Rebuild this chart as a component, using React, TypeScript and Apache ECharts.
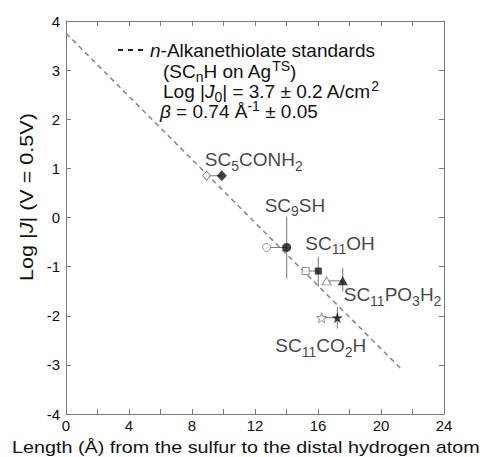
import React, { useEffect, useRef } from 'react';
import * as echarts from 'echarts';

// ---- data ----
const compounds = ['SC5CONH2', 'SC9SH', 'SC11OH', 'SC11PO3H2', 'SC11CO2H'];
const labelTexts = [
  'SC{s|5}CONH{s|2}',
  'SC{s|9}SH',
  'SC{s|11}OH',
  'SC{s|11}PO{s|3}H{s|2}',
  'SC{s|11}CO{s|2}H',
];
const filledLength = [9.89, 14.01, 16.02, 17.57, 17.23];
const openLength = [8.93, 12.74, 15.22, 16.55, 16.23];
const logJ = [0.85, -0.61, -1.09, -1.29, -2.04];
const errLow: (number | null)[] = [null, -1.24, -1.41, -1.5, -2.26];
const errHigh: (number | null)[] = [null, 0.02, -0.8, -1.03, -1.82];
const fitLength = [0, 21.3];
const fitLogJ = [3.75, -3.09];
const xTickLabels = [0, 4, 8, 12, 16, 20, 24];
const yTickLabels = [-4, -3, -2, -1, 0, 1, 2, 3, 4];

// ---- styles ----
const FONT = '"Liberation Sans", Arial, Helvetica, sans-serif';
const TEXT = '#111';
const AXIS = '#7a7a7a';
const STAR =
  'path://M0,-10L2.35,-3.24L9.51,-3.09L3.8,1.24L5.88,8.09L0,4L-5.88,8.09L-3.8,1.24L-9.51,-3.09L-2.35,-3.24Z';
const filledSymbols = ['diamond', 'circle', 'rect', 'triangle', STAR];
const filledSizes = [[10, 11], 9, 7, [10, 9], 11];
const openSymbols = ['diamond', 'circle', 'rect', 'triangle', STAR];
const openSizes = [[8, 9], 8, 7, [9, 8], 10];
const labelOffsets = [
  [-17, -16],
  [-22, -42],
  [-13, -28],
  [1, 14],
  [-62, 28],
];

export default function App() {
  const ref = useRef<HTMLDivElement>(null);
  useEffect(() => {
    if (!ref.current) return;
    const chart = echarts.init(ref.current, null, { renderer: 'svg' });
    const xStep = 2;
    const yStep = 1;
    const xMin = xTickLabels[0];
    const xMax = xTickLabels[xTickLabels.length - 1];
    const yMin = yTickLabels[0];
    const yMax = yTickLabels[yTickLabels.length - 1];

    const axisCommon = {
      type: 'value' as const,
      axisLine: { show: true, onZero: false, lineStyle: { color: AXIS, width: 1 } },
      axisTick: { show: true, inside: true, length: 5, lineStyle: { color: AXIS } },
      splitLine: { show: false },
    };

    const subRich = {
      s: {
        fontSize: 14,
        lineHeight: 14,
        verticalAlign: 'bottom',
        padding: [0, 0, -3, 0],
        fontFamily: FONT,
        color: TEXT,
      },
      u: {
        fontSize: 14,
        lineHeight: 14,
        verticalAlign: 'top',
        padding: [-2, 0, 0, 0],
        fontFamily: FONT,
        color: TEXT,
      },
      i: { fontSize: 19, lineHeight: 20, fontStyle: 'italic', fontFamily: FONT, color: TEXT },
    };

    const errData = compounds
      .map((_, i) => [filledLength[i], errLow[i], errHigh[i]])
      .filter((d) => d[1] !== null && d[2] !== null);
    const connData = compounds.map((_, i) => [openLength[i], filledLength[i], logJ[i]]);

    const legendText = (text: string, x: number, y: number) => ({
      type: 'text',
      x,
      y,
      style: {
        text,
        font: `19px ${FONT}`,
        fill: TEXT,
        verticalAlign: 'middle',
        align: 'left',
        lineHeight: 20,
        rich: subRich,
      },
    });

    chart.setOption({
      animation: false,
      backgroundColor: '#fff',
      grid: { left: 66, right: 43, top: 21, bottom: 43, containLabel: false },
      xAxis: [
        {
          ...axisCommon,
          min: xMin,
          max: xMax,
          interval: xStep,
          position: 'bottom',
          axisLabel: {
            margin: 4,
            fontSize: 15,
            fontFamily: FONT,
            color: TEXT,
            formatter: (v: number) => (xTickLabels.includes(v) ? String(v) : ''),
          },
        },
        {
          ...axisCommon,
          min: xMin,
          max: xMax,
          interval: xStep,
          position: 'top',
          axisLabel: { show: false },
        },
      ],
      yAxis: [
        {
          ...axisCommon,
          min: yMin,
          max: yMax,
          interval: yStep,
          position: 'left',
          axisLabel: {
            margin: 6,
            fontSize: 15,
            fontFamily: FONT,
            color: TEXT,
            formatter: (v: number) => (yTickLabels.includes(v) ? String(v) : ''),
          },
        },
        {
          ...axisCommon,
          min: yMin,
          max: yMax,
          interval: yStep,
          position: 'right',
          axisLabel: { show: false },
        },
      ],
      series: [
        {
          name: 'fit',
          type: 'line',
          data: fitLength.map((x, i) => [x, fitLogJ[i]]),
          showSymbol: false,
          symbol: 'none',
          lineStyle: { color: '#8a8a8a', width: 1.6, type: [5, 4] },
          z: 1,
        },
        {
          name: 'errorbars',
          type: 'custom',
          data: errData,
          renderItem: (params: any, api: any) => {
            const p1 = api.coord([api.value(0), api.value(1)]);
            const p2 = api.coord([api.value(0), api.value(2)]);
            return {
              type: 'line',
              shape: { x1: p1[0], y1: p1[1], x2: p2[0], y2: p2[1] },
              style: { stroke: '#8c8c8c', lineWidth: 1.2 },
            };
          },
          z: 2,
        },
        {
          name: 'connectors',
          type: 'custom',
          data: connData,
          renderItem: (params: any, api: any) => {
            const p1 = api.coord([api.value(0), api.value(2)]);
            const p2 = api.coord([api.value(1), api.value(2)]);
            return {
              type: 'line',
              shape: { x1: p1[0], y1: p1[1], x2: p2[0], y2: p2[1] },
              style: { stroke: '#777', lineWidth: 1 },
            };
          },
          z: 3,
        },
        {
          name: 'open',
          type: 'scatter',
          data: compounds.map((c, i) => ({
            name: c,
            value: [openLength[i], logJ[i]],
            symbol: openSymbols[i],
            symbolSize: openSizes[i],
          })),
          itemStyle: { color: '#fff', borderColor: '#777', borderWidth: 1 },
          z: 4,
        },
        {
          name: 'filled',
          type: 'scatter',
          data: compounds.map((c, i) => ({
            name: c,
            value: [filledLength[i], logJ[i]],
            symbol: filledSymbols[i],
            symbolSize: filledSizes[i],
            label: {
              show: true,
              position: 'inside',
              align: 'left',
              verticalAlign: 'middle',
              offset: labelOffsets[i],
              formatter: labelTexts[i],
              fontSize: 19,
              lineHeight: 20,
              fontFamily: FONT,
              color: TEXT,
              rich: subRich,
            },
          })),
          itemStyle: { color: '#111' },
          z: 5,
        },
      ],
      graphic: [
        {
          type: 'line',
          shape: { x1: 118, y1: 50, x2: 144, y2: 50 },
          style: { stroke: '#222', lineWidth: 2, lineDash: [5, 5] },
        },
        legendText('{i|n}-Alkanethiolate standards', 150, 50),
        legendText('(SC{s|n}H on Ag{u|TS})', 163, 71),
        legendText('Log |{i|J}{s|0}| = 3.7 ± 0.2 A/cm{u|2}', 163, 91),
        legendText('{i|β} = 0.74 Å{u|-1} ± 0.05', 160, 111),
        {
          type: 'text',
          x: 12,
          y: 448,
          scaleX: 1.235,
          style: {
            text: 'Length (Å) from the sulfur to the distal hydrogen atom',
            font: `16px ${FONT}`,
            fill: TEXT,
            verticalAlign: 'middle',
            align: 'left',
          },
        },
        {
          type: 'text',
          x: 27,
          y: 197,
          rotation: Math.PI / 2,
          scaleX: 1.2,
          style: {
            text: 'Log |{i|J}| (V = 0.5V)',
            font: `18px ${FONT}`,
            fill: TEXT,
            verticalAlign: 'middle',
            align: 'center',
            rich: {
              i: { fontSize: 18, fontStyle: 'italic', fontFamily: FONT, color: TEXT },
            },
          },
        },
      ],
    });
    return () => chart.dispose();
  }, []);
  return (
    <div
      ref={ref}
      style={{ position: 'fixed', left: 0, top: 0, width: 487, height: 457, background: '#fff' }}
    />
  );
}
